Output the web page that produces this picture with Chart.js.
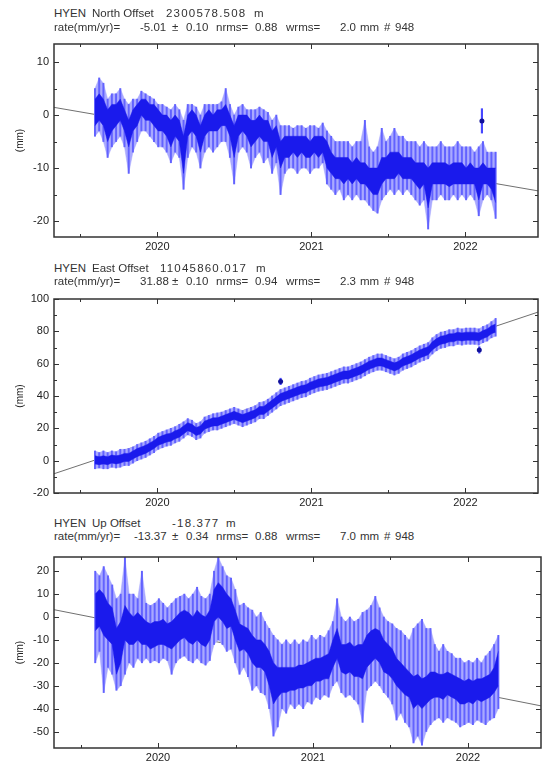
<!DOCTYPE html>
<html>
<head>
<meta charset="utf-8">
<title>HYEN GPS time series</title>
<script src="https://cdn.jsdelivr.net/npm/chart.js@4.4.0/dist/chart.umd.min.js"></script>
<style>
  body { margin: 0; background: #fff; }
  #page { position: relative; width: 542px; height: 762px; overflow: hidden; font-family: "Liberation Sans", Arial, sans-serif; color: #333; }
  .line { position: absolute; left: 0; font-size: 11.5px; line-height: 13px; white-space: pre; }
  .line span { position: absolute; top: 0; }
  .line .num { letter-spacing: 1.2px; }
  canvas { position: absolute; left: 0; }
</style>
</head>
<body>
<div id="page">
  <canvas id="northChart" width="542" height="225" style="top:32px"></canvas>
  <canvas id="eastChart" width="542" height="226" style="top:287px"></canvas>
  <canvas id="upChart" width="542" height="217" style="top:545px"></canvas>

  <!-- panel headers -->
  <div class="line" style="top:7px"><span style="left:54px">HYEN</span><span style="left:92px">North Offset</span><span class="num" style="left:166px">2300578.508</span><span style="left:254px">m</span></div>
  <div class="line" style="top:20.5px"><span style="left:54px">rate(mm/yr)=</span><span style="left:140px">-5.01</span><span style="left:172px">±</span><span style="left:186px">0.10</span><span style="left:216px">nrms=</span><span style="left:255px">0.88</span><span style="left:286px">wrms=</span><span style="left:340px">2.0</span><span style="left:360px">mm</span><span style="left:384px">#</span><span style="left:395px">948</span></div>

  <div class="line" style="top:261.5px"><span style="left:54px">HYEN</span><span style="left:92px">East Offset</span><span class="num" style="left:160px">11045860.017</span><span style="left:256px">m</span></div>
  <div class="line" style="top:275px"><span style="left:54px">rate(mm/yr)=</span><span style="left:140px">31.88</span><span style="left:172px">±</span><span style="left:186px">0.10</span><span style="left:216px">nrms=</span><span style="left:255px">0.94</span><span style="left:286px">wrms=</span><span style="left:340px">2.3</span><span style="left:360px">mm</span><span style="left:384px">#</span><span style="left:395px">948</span></div>

  <div class="line" style="top:516.5px"><span style="left:54px">HYEN</span><span style="left:92px">Up Offset</span><span class="num" style="left:172px">-18.377</span><span style="left:226px">m</span></div>
  <div class="line" style="top:530px"><span style="left:54px">rate(mm/yr)=</span><span style="left:134px">-13.37</span><span style="left:172px">±</span><span style="left:186px">0.34</span><span style="left:216px">nrms=</span><span style="left:255px">0.88</span><span style="left:286px">wrms=</span><span style="left:340px">7.0</span><span style="left:360px">mm</span><span style="left:384px">#</span><span style="left:395px">948</span></div>
</div>

<script>
// Epochs: one bin every 10 days, starting at the first day of data
const firstEpoch = 2019.595;
const binDays = 10;

// Shared x axis (decimal years) and its ticks
const xRange = [2019.329, 2022.471];
const yearTicks = [2019.5, 2020, 2020.5, 2021, 2021.5, 2022];

// North (mm): whisker bottom, dark core bottom, dark core top, whisker top
const northLow = [
  -4, -3, -5, -8, -6, -5, -4, -6, -11, -7,
  -5, -3, -3, -4, -5, -6, -6, -7, -9, -7,
  -8, -14, -8, -6, -7, -10, -7, -6, -7, -6,
  -5, -5, -8, -13, -7, -6, -7, -10, -8, -7,
  -9, -8, -11, -9, -15, -11, -10, -10, -11, -10,
  -10, -11, -10, -10, -9, -13, -14, -15, -14, -16,
  -15, -16, -15, -16, -16, -17, -18, -18.5, -16, -15,
  -14, -15, -14, -15, -14, -15, -16, -17, -16, -21.5,
  -16, -16, -15, -16, -16, -15, -16, -15, -16, -15,
  -16, -19, -16, -15, -16, -19.5];
const northCoreLow = [
  -2, -1, -2, -5, -3, -2, -1, -3, -6, -3,
  -2, 0, -1, -1, -2, -3, -3, -4, -6, -4,
  -5, -11, -4, -3, -4, -7, -4, -3, -3, -3,
  -2, -2, -4, -8, -4, -3, -4, -6, -5, -4,
  -5, -5, -8, -6, -10, -8, -8, -7, -8, -7,
  -8, -8, -7, -8, -7, -10, -11, -12, -12, -13,
  -12, -13, -12, -13, -13, -14, -15, -15, -13, -12,
  -12, -12, -11, -12, -12, -12, -13, -14, -13, -17.5,
  -13, -13, -13, -13, -13.5, -13, -13, -13, -13, -13,
  -13, -16, -13, -13, -14, -16.5];
const northCoreHigh = [
  3, 4, 3, 1, 2, 2, 3, 1, -1, 1,
  2, 3, 3, 2, 2, 1, 0, 0, -1, 0,
  -1, -4, 0, 1, 0, -2, 0, 1, 0, 1,
  1, 2, 0, -2, 0, 0, 0, -1, -1, 0,
  -1, -1, -3, -2, -5, -4, -4, -4, -4, -4,
  -4, -5, -4, -4, -4, -5, -7, -8, -8, -8,
  -8, -9, -8, -9, -9, -10, -10, -10, -8, -8,
  -7, -7, -7, -8, -8, -8, -9, -9, -9, -10,
  -9, -9, -9, -9, -9.5, -9, -9, -9, -10, -9,
  -10, -10, -9, -10, -10, -10];
const northHigh = [
  5, 7, 6, 3, 4, 4, 5, 3, 2, 3,
  3, 4.5, 4, 3.5, 3, 2, 2, 1.5, 1, 2,
  1, -1, 2, 2, 1.5, 0, 2, 2, 2, 2,
  2.5, 5, 2, 0, 1.5, 2, 1, 1, 1, 1.5,
  1, 0.5, -1, 0, -2, -2, -2, -2.5, -2, -2,
  -2.5, -2, -2, -2.5, -1.5, -3, -4, -5, -5, -5,
  -5, -6, -5, -5, -1, -6, -7, -6, -2.5, -5,
  -4, -2.5, -4, -4, -5, -5, -5, -6, -5, -6,
  -6, -6, -5, -6, -6, -6, -5, -6, -6, -6,
  -7, -6, -5, -7, -7, -7];
const northOutT = [2022.107];
const northOutV = [-1.1];
const northOutErr = [2.3];
const northTrend = [1.45, -14.3];
const northRange = [-23.0, 13.4];
const northTicks = [-20, -15, -10, -5, 0, 5, 10];

// East (mm)
const eastLow = [
  -5, -4.5, -5, -5, -4, -4.5, -4, -3, -3, -1.5,
  0, 1, 2, 3.5, 5, 7, 8, 9, 9.5, 11,
  12, 14, 16, 15, 13, 14, 17, 18, 19, 19,
  20, 21, 22, 23, 22, 21, 22, 23, 24, 26,
  26, 28, 30, 32, 34, 35, 36, 37, 38, 39,
  39.5, 41, 42, 43, 43.5, 44, 45, 46, 47, 48,
  48, 49, 50, 51, 52.5, 54, 55, 56, 56, 55,
  54, 53, 54, 56, 57, 58, 59.5, 61, 62, 63,
  66, 68, 69.5, 70, 71, 71, 72, 71.5, 72, 72,
  72, 71.5, 73, 74, 76, 77];
const eastCoreLow = [
  -2, -2.5, -2, -2.5, -1.5, -2, -1.5, -0.5, -0.5, 1,
  2.5, 3.5, 4.5, 6, 7.5, 9.5, 10.5, 11.5, 12, 13.5,
  14.5, 16.5, 18.5, 17.5, 15.5, 16.5, 19.5, 20.5, 21.5, 21.5,
  22.5, 23.5, 24.5, 25.5, 24.5, 23.5, 24.5, 25.5, 26.5, 28.5,
  28.5, 30.5, 32.5, 34.5, 36.5, 37.5, 38.5, 39.5, 40.5, 41.5,
  42, 43.5, 44.5, 45.5, 46, 46.5, 47.5, 48.5, 49.5, 50.5,
  50.5, 51.5, 52.5, 53.5, 55, 56.5, 57.5, 58.5, 58.5, 57.5,
  56.5, 55.5, 56.5, 58.5, 59.5, 60.5, 62, 63.5, 64.5, 65.5,
  68.5, 70.5, 72, 72.5, 73.5, 73.5, 74.5, 74, 74.5, 74.5,
  74.5, 74, 75.5, 76.5, 78.5, 79.5];
const eastCoreHigh = [
  3, 2.5, 3, 2.5, 3.5, 3, 3.5, 4.5, 4.5, 6,
  7.5, 8.5, 9.5, 11, 12.5, 14.5, 15.5, 16.5, 17, 18.5,
  19.5, 21.5, 23.5, 22.5, 20.5, 21.5, 24.5, 25.5, 26.5, 26.5,
  27.5, 28.5, 29.5, 30.5, 29.5, 28.5, 29.5, 30.5, 31.5, 33.5,
  33.5, 35.5, 37.5, 39.5, 41.5, 42.5, 43.5, 44.5, 45.5, 46.5,
  47, 48.5, 49.5, 50.5, 51, 51.5, 52.5, 53.5, 54.5, 55.5,
  55.5, 56.5, 57.5, 58.5, 60, 61.5, 62.5, 63.5, 63.5, 62.5,
  61.5, 60.5, 61.5, 63.5, 64.5, 65.5, 67, 68.5, 69.5, 70.5,
  73.5, 75.5, 77, 77.5, 78.5, 78.5, 79.5, 79, 79.5, 79.5,
  79.5, 79, 80.5, 81.5, 83.5, 84.5];
const eastHigh = [
  6, 5, 6, 5, 6, 5.5, 7, 7, 7.5, 8.5,
  10, 11, 12, 13.5, 15, 17, 18, 19, 20, 21,
  22.5, 24, 26, 25, 23, 24, 27, 28, 29, 29.5,
  30, 31, 32, 33, 32, 31, 32, 33, 34, 36,
  36.5, 38, 40, 42, 44, 45, 46, 47, 48, 49,
  49.5, 51, 52, 53, 53.5, 54, 55, 56, 57, 58,
  58, 59, 60, 61, 62.5, 64, 65, 66, 66, 65,
  64, 63, 64, 66, 67, 68, 69.5, 71, 72, 73,
  76, 78, 79.5, 80, 81, 81, 82, 81.5, 82, 82,
  82, 81.5, 83, 84, 86, 88];
const eastOutT = [2020.80, 2022.09];
const eastOutV = [49, 68.5];
const eastOutErr = [2, 2];
const eastTrend = [-8.1, 91.9];
const eastRange = [-20, 100];
const eastTicks = [-20, -10, 0, 10, 20, 30, 40, 50, 60, 70, 80, 90, 100];

// Up (mm)
const upLow = [
  -20, -15, -33, -22, -25, -32, -30, -25, -20, -22,
  -18, -20, -18, -20, -19, -20, -18, -19, -25, -20,
  -18, -17, -19, -20, -18, -20, -21, -19, -12, -10,
  -12, -15, -14, -20, -25, -22, -26, -32, -30, -33,
  -34, -40, -52, -48, -40, -42, -38, -40, -38, -40,
  -37, -38, -35, -36, -34, -35, -30, -28, -33, -35,
  -34, -36, -38, -46, -32, -30, -28, -30, -33, -35,
  -38, -45, -42, -46, -48, -55, -52, -56, -50, -47,
  -45, -44, -46, -44, -45, -46, -48, -47, -46, -47,
  -45, -46, -47, -45, -44, -40];
const upCoreLow = [
  -6, -4, -8, -10, -12, -25, -20, -10, -12, -12,
  -10, -12, -12, -14, -13, -12, -12, -13, -14, -12,
  -10, -9, -11, -12, -10, -12, -13, -10, -2, 0,
  -2, -5, -4, -10, -15, -14, -16, -20, -22, -22,
  -24, -30, -38, -35, -33, -33, -32, -32, -31, -31,
  -30, -30, -28, -28, -27, -27, -22, -18, -24, -25,
  -24, -26, -26, -27, -22, -20, -18, -20, -24, -25,
  -27, -30, -32, -34, -35, -40, -38, -40, -38, -36,
  -35, -35, -36, -34, -35, -36, -38, -38, -37, -38,
  -36, -37, -36, -35, -33, -30];
const upCoreHigh = [
  10, 12, 10, 6, 4, -5, -2, 5, 2, 0,
  2, 0, -2, -3, -2, -2, -1, -3, -2, 0,
  2, 3, 2, 0, 3, 1, 0, 3, 12, 15,
  13, 10, 8, 3, -3, -4, -5, -8, -10, -10,
  -12, -15, -20, -22, -22, -22, -22, -22, -21, -21,
  -20, -19, -18, -18, -17, -16, -10, -5, -12, -12,
  -11, -13, -12, -12, -8, -6, -5, -6, -10, -12,
  -14, -18, -20, -22, -24, -26, -25, -27, -26, -24,
  -24, -25, -25, -24, -25, -26, -27, -28, -27, -28,
  -27, -27, -26, -25, -22, -15];
const upHigh = [
  20, 18, 22, 18, 14, 8, 10, 26, 10, 10,
  8, 20, 6, 5, 6, 8, 6, 4, 6, 8,
  9, 10, 8, 10, 13, 9, 8, 10, 20, 26,
  22, 18, 17, 12, 5, 6, 4, 3, 0, 2,
  -2, -5, -8, -10, -12, -10, -12, -10, -12, -10,
  -11, -8, -10, -8, -9, -6, -2, 8, 0, -2,
  0, -2, -1, 2, 3, 5, 9, 4, 0, -2,
  -3, -5, -6, -8, -10, -5, -3, -1, -5, -5,
  -12, -15, -12, -15, -16, -18, -18, -20, -19, -20,
  -18, -20, -17, -15, -12, -8];
const upOutT = [];
const upOutV = [];
const upOutErr = [];
const upTrend = [3.2, -38.8];
const upRange = [-57.2, 26.2];
const upTicks = [-50, -40, -30, -20, -10, 0, 10, 20];

const epochs = northLow.map((_, i) => firstEpoch + i * binDays / 365.25);

const tickFont = { family: 'Liberation Sans', size: 11 };

// Box frame plus inward tick marks on all four sides
const frameTicks = {
    id: 'frameTicks',
    afterDatasetsDraw(chart) {
        const { ctx, chartArea: a, scales: { x, y } } = chart;
        ctx.save();
        ctx.strokeStyle = '#333';
        ctx.lineWidth = 1;
        ctx.beginPath();
        x.ticks.forEach(t => {
            const px = Math.round(x.getPixelForValue(t.value)) + 0.5;
            const len = t.label ? 5 : 3;
            ctx.moveTo(px, a.bottom); ctx.lineTo(px, a.bottom - len);
            ctx.moveTo(px, a.top); ctx.lineTo(px, a.top + len);
        });
        y.ticks.forEach(t => {
            const py = Math.round(y.getPixelForValue(t.value)) + 0.5;
            const len = t.label ? 5 : 3;
            ctx.moveTo(a.left, py); ctx.lineTo(a.left + len, py);
            ctx.moveTo(a.right, py); ctx.lineTo(a.right - len, py);
        });
        ctx.stroke();
        ctx.lineWidth = 1.5;
        ctx.strokeRect(a.left, a.top, a.right - a.left, a.bottom - a.top);
        ctx.restore();
    }
};

// A band edge as a line dataset; fill '-1' shades down to the previous dataset
function edge(values, color, fill, order) {
    return {
        type: 'line',
        data: epochs.map((t, i) => ({ x: t, y: values[i] })),
        borderColor: color, backgroundColor: color, borderWidth: 0.5,
        pointRadius: 0, tension: 0, fill: fill, order: order
    };
}

function drawPanel(canvasId, p) {
    const ctx = document.getElementById(canvasId).getContext('2d');

    return new Chart(ctx, {
        type: 'bar',
        data: {
            datasets: [
                { // fitted rate line
                    type: 'line',
                    data: [{ x: xRange[0], y: p.trend[0] }, { x: xRange[1], y: p.trend[1] }],
                    borderColor: '#707070', borderWidth: 1, pointRadius: 0, order: 9
                },
                edge(p.low, '#a9a9ff', false, 8),     // error bar envelope
                edge(p.high, '#a9a9ff', '-1', 7),
                { // single error bars, one per bin
                    data: epochs.map((t, i) => ({ x: t, y: [p.low[i], p.high[i]] })),
                    backgroundColor: '#6262ff', barThickness: 1.3, order: 6
                },
                edge(p.coreLow, '#1a1aec', false, 5), // dense daily positions
                edge(p.coreHigh, '#1a1aec', '-1', 4),
                { // isolated outliers: error bar
                    data: p.outT.map((t, i) => ({ x: t, y: [p.outV[i] - p.outErr[i], p.outV[i] + p.outErr[i]] })),
                    backgroundColor: '#4646ff', barThickness: 1.5, order: 2
                },
                { // isolated outliers: point
                    type: 'line', showLine: false,
                    data: p.outT.map((t, i) => ({ x: t, y: p.outV[i] })),
                    pointRadius: 2.5, pointBorderWidth: 0, pointBackgroundColor: '#10109a', order: 1
                }
            ]
        },
        options: {
            responsive: false,
            animation: false,
            layout: { padding: { top: 12, right: 1, left: 0, bottom: 0 } },
            datasets: { bar: { grouped: false, borderWidth: 0 } },
            plugins: {
                legend: { display: false },
                tooltip: { enabled: false }
            },
            scales: {
                x: {
                    type: 'linear',
                    min: xRange[0],
                    max: xRange[1],
                    offset: false,
                    grid: { display: false, drawTicks: false },
                    border: { display: false },
                    afterBuildTicks: s => { s.ticks = yearTicks.map(v => ({ value: v })); },
                    afterFit: s => { s.height = p.xAxisHeight; s.paddingLeft = 0; s.paddingRight = 0; },
                    ticks: {
                        autoSkip: false, maxRotation: 0, padding: 3,
                        color: '#222', font: tickFont,
                        callback: v => Number.isInteger(v) ? String(v) : ''
                    }
                },
                y: {
                    type: 'linear',
                    min: p.range[0],
                    max: p.range[1],
                    grid: { display: false, drawTicks: false },
                    border: { display: false },
                    afterBuildTicks: s => { s.ticks = p.ticks.map(v => ({ value: v })); },
                    afterFit: s => { s.width = 54; s.paddingTop = 0; s.paddingBottom = 0; },
                    ticks: {
                        autoSkip: false, padding: 5,
                        color: '#222', font: tickFont,
                        callback: v => v % p.labelStep === 0 ? String(v) : ''
                    },
                    title: {
                        display: true, text: '(mm)', color: '#222',
                        font: { family: 'Liberation Sans', size: 10 },
                        padding: { top: 14, bottom: 0 }
                    }
                }
            }
        },
        plugins: [frameTicks]
    });
}

drawPanel('northChart', {
    low: northLow, coreLow: northCoreLow, coreHigh: northCoreHigh, high: northHigh,
    outT: northOutT, outV: northOutV, outErr: northOutErr,
    trend: northTrend, range: northRange, ticks: northTicks, labelStep: 10, xAxisHeight: 20
});
drawPanel('eastChart', {
    low: eastLow, coreLow: eastCoreLow, coreHigh: eastCoreHigh, high: eastHigh,
    outT: eastOutT, outV: eastOutV, outErr: eastOutErr,
    trend: eastTrend, range: eastRange, ticks: eastTicks, labelStep: 20, xAxisHeight: 20
});
drawPanel('upChart', {
    low: upLow, coreLow: upCoreLow, coreHigh: upCoreHigh, high: upHigh,
    outT: upOutT, outV: upOutV, outErr: upOutErr,
    trend: upTrend, range: upRange, ticks: upTicks, labelStep: 10, xAxisHeight: 14
});
</script>
</body>
</html>
